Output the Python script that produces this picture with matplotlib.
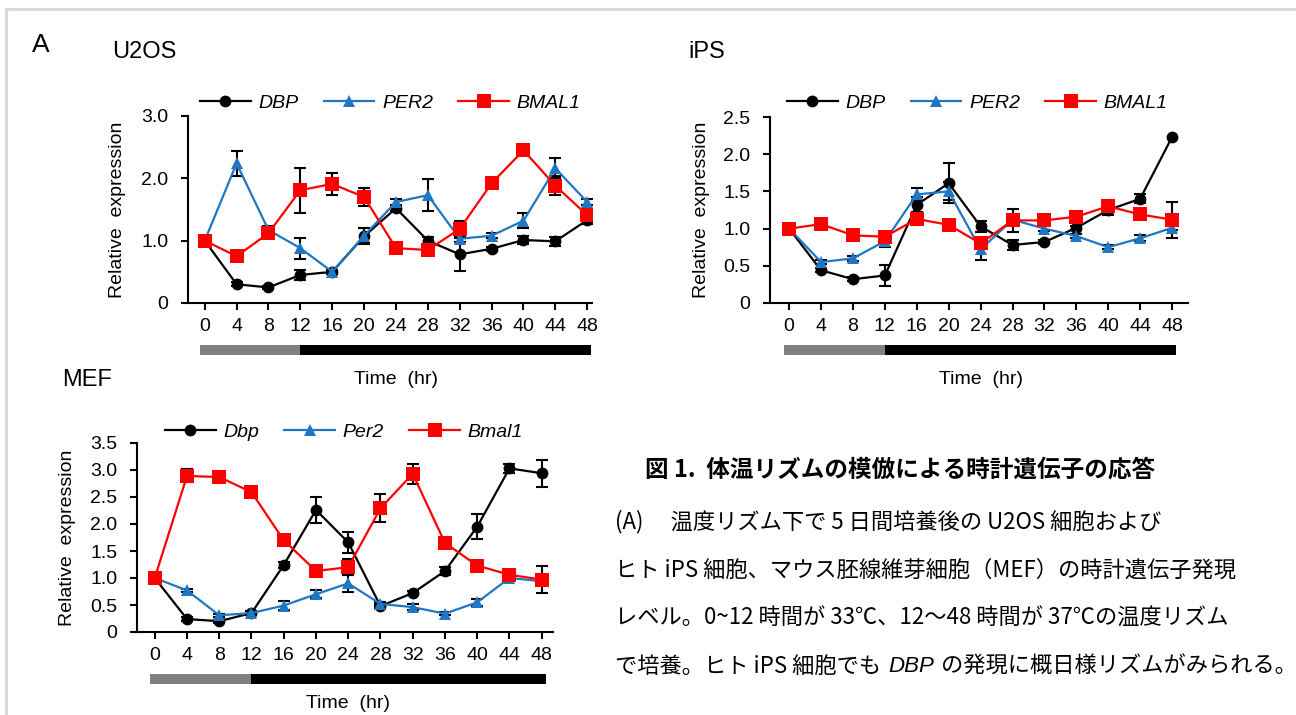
import numpy as np
import matplotlib.pyplot as plt
from matplotlib.lines import Line2D
from matplotlib.patches import Rectangle
import matplotlib.transforms as mtransforms

plt.rcParams['font.family'] = ['Liberation Sans', 'Noto Sans CJK JP', 'DejaVu Sans']

W, H = 1296, 715

hours = [0, 4, 8, 12, 16, 20, 24, 28, 32, 36, 40, 44, 48]
phase_edges = [-0.6, 12, 48.5]   # 33C phase, then 37C phase
phase_colors = ['#808080', '#000000']

# --- U2OS (human) ---
u2os_dbp = [1.0, 0.30, 0.25, 0.45, 0.50, 1.07, 1.52, 1.00, 0.78, 0.87, 1.01, 0.99, 1.33]
u2os_dbp_err = [0.03, 0.03, 0.03, 0.08, 0.03, 0.13, 0.04, 0.06, 0.27, 0.03, 0.06, 0.07, 0.06]
u2os_per2 = [1.0, 2.24, 1.17, 0.88, 0.50, 1.08, 1.62, 1.73, 1.03, 1.08, 1.32, 2.16, 1.62]
u2os_per2_err = [0.0, 0.20, 0.06, 0.17, 0.03, 0.12, 0.05, 0.26, 0.05, 0.04, 0.12, 0.16, 0.05]
u2os_bmal1 = [1.0, 0.75, 1.12, 1.81, 1.91, 1.70, 0.88, 0.85, 1.19, 1.92, 2.45, 1.88, 1.41]
u2os_bmal1_err = [0.0, 0.03, 0.05, 0.36, 0.17, 0.14, 0.03, 0.03, 0.12, 0.06, 0.06, 0.15, 0.07]

# --- iPS (human) ---
ips_dbp = [1.00, 0.44, 0.32, 0.37, 1.32, 1.61, 1.03, 0.78, 0.82, 1.01, 1.25, 1.40, 2.23]
ips_dbp_err = [0.06, 0.03, 0.03, 0.14, 0.10, 0.27, 0.07, 0.07, 0.03, 0.03, 0.07, 0.06, 0.0]
ips_per2 = [1.00, 0.55, 0.60, 0.83, 1.46, 1.50, 0.72, 1.12, 1.00, 0.90, 0.75, 0.87, 1.01]
ips_per2_err = [0.0, 0.03, 0.03, 0.08, 0.08, 0.12, 0.14, 0.03, 0.03, 0.03, 0.03, 0.04, 0.03]
ips_bmal1 = [1.00, 1.06, 0.91, 0.89, 1.13, 1.05, 0.80, 1.11, 1.11, 1.16, 1.30, 1.19, 1.12]
ips_bmal1_err = [0.03, 0.06, 0.03, 0.07, 0.08, 0.03, 0.03, 0.16, 0.03, 0.05, 0.06, 0.05, 0.24]

# --- MEF (mouse) ---
mef_dbp = [1.00, 0.24, 0.20, 0.35, 1.24, 2.26, 1.66, 0.48, 0.72, 1.13, 1.95, 3.03, 2.94]
mef_dbp_err = [0.0, 0.03, 0.03, 0.03, 0.05, 0.24, 0.19, 0.04, 0.04, 0.08, 0.23, 0.08, 0.25]
mef_per2 = [1.00, 0.77, 0.31, 0.35, 0.49, 0.70, 0.90, 0.52, 0.46, 0.34, 0.55, 1.00, 0.94]
mef_per2_err = [0.0, 0.03, 0.03, 0.03, 0.09, 0.07, 0.15, 0.03, 0.05, 0.03, 0.06, 0.06, 0.03]
mef_bmal1 = [1.00, 2.89, 2.87, 2.59, 1.70, 1.13, 1.20, 2.29, 2.93, 1.65, 1.23, 1.06, 0.97]
mef_bmal1_err = [0.0, 0.12, 0.03, 0.03, 0.09, 0.03, 0.15, 0.26, 0.18, 0.03, 0.08, 0.04, 0.25]

C_BLACK = '#000000'
C_BLUE = '#1f77c4'
C_RED = '#ff0000'


def px_rect(left, right, bottom, top):
    """Axes rect in figure fraction from pixel positions."""
    return [left / W, 1 - bottom / H, (right - left) / W, (bottom - top) / H]


def ftext(x, y, s, **kw):
    return fig.text(x / W, 1 - y / H, s, **kw)


def draw_panel(rect, xlim, ylim, yticks, yticklabels, series, names, legend_xy,
               ylabel_x, time_y):
    ax = fig.add_axes(px_rect(*rect))
    x = np.array(hours)
    styles = [('o', C_BLACK, 8.5), ('^', C_BLUE, 8.5), ('s', C_RED, 9.5)]
    handles = []
    for i, ((vals, err), (mk, col, ms), name) in enumerate(zip(series, styles, names)):
        vals = np.array(vals)
        err = np.array(err)
        m = err > 0
        ax.errorbar(x[m], vals[m], yerr=err[m], fmt='none', ecolor='black',
                    elinewidth=1.5, capsize=4.5, capthick=1.5, zorder=2 + i)
        h, = ax.plot(x, vals, marker=mk, color=col, lw=1.6, ms=ms,
                     markeredgewidth=0, zorder=5 + i, label=name)
        handles.append(h)

    ax.set_xlim(*xlim)
    ax.set_ylim(*ylim)
    ax.set_xticks(hours)
    ax.set_xticklabels([str(h) for h in hours])
    ax.set_yticks(yticks)
    ax.set_yticklabels(yticklabels)
    for s in ['top', 'right']:
        ax.spines[s].set_visible(False)
    for s in ['left', 'bottom']:
        ax.spines[s].set_linewidth(1.5)
    ax.tick_params(axis='both', direction='out', length=5, width=1.5,
                   labelsize=14, colors='black')
    ax.tick_params(axis='x', pad=6)
    ax.tick_params(axis='y', pad=9)

    # temperature phase bar under the axis
    ax_h = rect[2] - rect[3]
    trans = mtransforms.blended_transform_factory(ax.transData, ax.transAxes)
    for (x0, x1), c in zip(zip(phase_edges[:-1], phase_edges[1:]), phase_colors):
        ax.add_patch(Rectangle((x0, -52 / ax_h), x1 - x0, 10 / ax_h,
                               transform=trans, color=c, clip_on=False, lw=0))

    ax.legend(handles=handles, loc='center left', frameon=False, ncol=3,
              bbox_to_anchor=(legend_xy[0] / W, 1 - legend_xy[1] / H),
              bbox_transform=fig.transFigure, borderaxespad=0, borderpad=0,
              handlelength=2.6, handletextpad=0.4, columnspacing=1.3,
              prop={'style': 'italic', 'size': 14})

    ftext(ylabel_x, (rect[2] + rect[3]) / 2, 'Relative  expression',
          rotation=90, ha='center', va='center', fontsize=14)
    x_mid = ax.transData.transform((24, 0))[0]
    ftext(x_mid, time_y, 'Time  (hr)', ha='center', va='center', fontsize=14)
    return ax


fig = plt.figure(figsize=(W / 100, H / 100), dpi=100)

# light grey frame around the figure
fig.add_artist(Line2D([6 / W, 1], [1 - 9 / H, 1 - 9 / H], color='#d9d9d9', lw=2.2))
fig.add_artist(Line2D([6 / W, 6 / W], [0, 1 - 9 / H], color='#d9d9d9', lw=2.2))

draw_panel((188, 592, 303, 116), (-2.1, 48.6), (0, 3.0),
           [0, 1, 2, 3], ['0', '1.0', '2.0', '3.0'],
           [(u2os_dbp, u2os_dbp_err), (u2os_per2, u2os_per2_err),
            (u2os_bmal1, u2os_bmal1_err)],
           ['DBP', 'PER2', 'BMAL1'], (200, 103), 117, 380)

draw_panel((770, 1188, 303, 117), (-2.4, 50.0), (0, 2.5),
           [0, 0.5, 1.0, 1.5, 2.0, 2.5], ['0', '0.5', '1.0', '1.5', '2.0', '2.5'],
           [(ips_dbp, ips_dbp_err), (ips_per2, ips_per2_err),
            (ips_bmal1, ips_bmal1_err)],
           ['DBP', 'PER2', 'BMAL1'], (787, 103), 702, 380)

draw_panel((137, 553, 632, 443), (-2.2, 49.4), (0, 3.5),
           [0, 0.5, 1.0, 1.5, 2.0, 2.5, 3.0, 3.5],
           ['0', '0.5', '1.0', '1.5', '2.0', '2.5', '3.0', '3.5'],
           [(mef_dbp, mef_dbp_err), (mef_per2, mef_per2_err),
            (mef_bmal1, mef_bmal1_err)],
           ['Dbp', 'Per2', 'Bmal1'], (165, 432), 67, 704)

ftext(32, 45, 'A', ha='left', va='center', fontsize=19)
ftext(112, 52, 'U2OS', ha='left', va='center', fontsize=17)
ftext(688, 52, 'iPS', ha='left', va='center', fontsize=17)
ftext(62, 380, 'MEF', ha='left', va='center', fontsize=17)

# caption
cjk = ['Noto Sans CJK JP', 'DejaVu Sans']
ftext(645, 470, '図 1.  体温リズムの模倣による時計遺伝子の応答', ha='left', va='center',
      fontsize=17, fontweight='bold', family=cjk)
ftext(615, 522, '(A)　 温度リズム下で 5 日間培養後の U2OS 細胞および', ha='left',
      va='center', fontsize=16, family=cjk)
ftext(615, 570, 'ヒト iPS 細胞、マウス胚線維芽細胞（MEF）の時計遺伝子発現', ha='left',
      va='center', fontsize=16, family=cjk)
ftext(615, 618, 'レベル。0~12 時間が 33℃、12～48 時間が 37℃の温度リズム', ha='left',
      va='center', fontsize=16, family=cjk)

# last line has an italic gene name in the middle
renderer = fig.canvas.get_renderer()
x_cur = 615
pieces = [('で培養。ヒト iPS 細胞でも', cjk, 'normal'),
          ('DBP', ['Liberation Sans'], 'italic'),
          ('の発現に概日様リズムがみられる。', cjk, 'normal')]
for txt, fam, sty in pieces:
    t = ftext(x_cur, 666, txt, ha='left', va='center', fontsize=16,
              family=fam, style=sty)
    x_cur += t.get_window_extent(renderer).width + 7

fig.savefig('out.png', dpi=100)
